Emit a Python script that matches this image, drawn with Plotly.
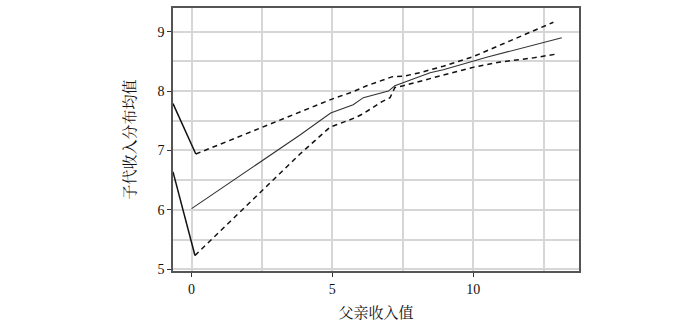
import plotly.graph_objects as go

# Main estimate (solid)
main_x = [0.0, 3.85, 4.94, 5.74, 6.10, 6.99, 7.22, 8.47, 8.94, 10.0, 10.48, 13.15]
main_y = [6.02, 7.26, 7.63, 7.77, 7.89, 8.00, 8.09, 8.31, 8.36, 8.51, 8.57, 8.90]

# Upper confidence band (dashed)
upper_x = [0.15, 3.85, 4.91, 5.01, 5.74, 6.22, 7.11, 7.52, 8.11, 8.94, 10.0, 10.96, 12.85]
upper_y = [6.94, 7.65, 7.85, 7.87, 7.99, 8.09, 8.24, 8.25, 8.31, 8.42, 8.58, 8.78, 9.16]

# Lower confidence band (dashed)
lower_x = [0.12, 3.85, 4.91, 5.80, 6.10, 6.75, 7.05, 7.22, 7.52, 8.11, 8.94, 10.0, 10.96, 12.14, 13.03]
lower_y = [5.23, 6.94, 7.39, 7.55, 7.62, 7.82, 7.89, 8.06, 8.09, 8.16, 8.27, 8.40, 8.49, 8.56, 8.63]

# Solid leading segments at the left edge
seg_up_x = [-0.66, 0.15]
seg_up_y = [7.79, 6.94]
seg_lo_x = [-0.66, 0.12]
seg_lo_y = [6.64, 5.23]

x_title = "父亲收入值"
y_title = "子代收入分布均值"

fig = go.Figure()
fig.add_trace(go.Scatter(x=main_x, y=main_y, mode="lines",
                         line=dict(color="#333333", width=1.1), showlegend=False))
fig.add_trace(go.Scatter(x=upper_x, y=upper_y, mode="lines",
                         line=dict(color="#111111", width=1.5, dash="5px,4px"), showlegend=False))
fig.add_trace(go.Scatter(x=lower_x, y=lower_y, mode="lines",
                         line=dict(color="#111111", width=1.5, dash="5px,4px"), showlegend=False))
fig.add_trace(go.Scatter(x=seg_up_x, y=seg_up_y, mode="lines",
                         line=dict(color="#111111", width=1.5), showlegend=False))
fig.add_trace(go.Scatter(x=seg_lo_x, y=seg_lo_y, mode="lines",
                         line=dict(color="#111111", width=1.5), showlegend=False))

font_fam = "Liberation Serif, Noto Serif CJK SC, Noto Sans CJK SC, serif"

fig.update_layout(
    width=700, height=325,
    margin=dict(l=173, r=121, t=6, b=53),
    plot_bgcolor="white", paper_bgcolor="white",
    font=dict(family=font_fam, size=14, color="#111111"),
    xaxis=dict(
        range=[-0.66, 13.76], tickvals=[0, 5, 10], ticktext=["0", "5", "10"],
        showgrid=True, gridcolor="#d6d6d6", gridwidth=1.5,
        minor=dict(tickvals=[2.5, 7.5, 12.5], showgrid=True, gridcolor="#d6d6d6", gridwidth=1.5),
        ticks="outside", ticklen=4, tickcolor="#333333", tickwidth=1.2,
        showline=True, linecolor="#555555", linewidth=1.5, mirror=True,
        zeroline=False,
        title=dict(text=x_title, standoff=12, font=dict(size=15)),
        tickfont=dict(size=14),
    ),
    yaxis=dict(
        range=[4.97, 9.40], tickvals=[5, 6, 7, 8, 9],
        showgrid=True, gridcolor="#d6d6d6", gridwidth=1.5,
        minor=dict(tickvals=[5.5, 6.5, 7.5, 8.5], showgrid=True, gridcolor="#d6d6d6", gridwidth=1.5),
        ticks="outside", ticklen=4, tickcolor="#333333", tickwidth=1.2,
        showline=True, linecolor="#555555", linewidth=1.5, mirror=True,
        zeroline=False,
        title=dict(text=y_title, standoff=18, font=dict(size=15)),
        tickfont=dict(size=14),
    ),
)

fig.write_html("out.html", config={"displayModeBar": False},
               post_script="document.body.style.margin='0';")
